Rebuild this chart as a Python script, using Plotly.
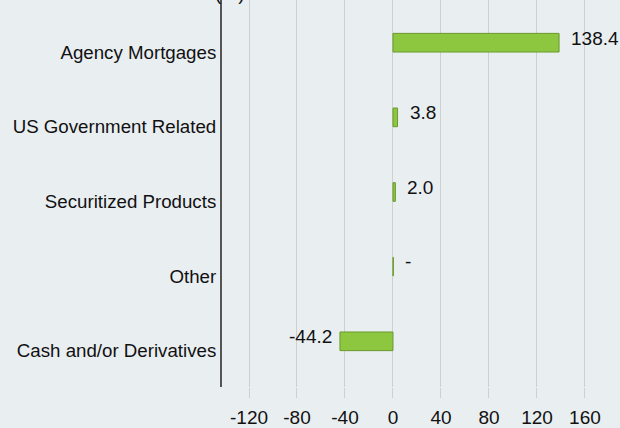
import plotly.graph_objects as go

categories = ["Agency Mortgages", "US Government Related", "Securitized Products", "Other", "Cash and/or Derivatives"]
values = [138.4, 3.8, 2.0, 0.3, -44.2]
value_labels = ["138.4", "3.8", "2.0", "-", "-44.2"]
tick_vals = [-120, -80, -40, 0, 40, 80, 120, 160]
tick_text = ["-120", "-80", "-40", "0", "40", "80", "120", "160"]

BG = "#e9eef1"
FONT = "Liberation Sans, Arial, sans-serif"
FS = 19

fig = go.Figure()
fig.add_trace(go.Bar(
    y=categories, x=values, orientation="h",
    width=0.25, offset=-0.25,
    marker=dict(color="#8dc63f", line=dict(color="#6b9a2e", width=1)),
    hoverinfo="skip",
))

for c, v, t in zip(categories, values, value_labels):
    fig.add_annotation(
        x=v, y=c, yref="y", xref="x", text=t, showarrow=False,
        xanchor="left" if v >= 0 else "right",
        xshift=10 if v >= 0 else -6,
        yshift=14,
        font=dict(family=FONT, size=FS, color="#111111"),
    )

fig.add_annotation(
    x=0, xref="x", y=1, yref="paper", text="(%)", showarrow=False,
    xanchor="center", yanchor="bottom", xshift=-163, yshift=-6,
    font=dict(family=FONT, size=FS, color="#111111"),
)

fig.update_layout(
    width=620, height=428,
    margin=dict(l=222, r=0, t=0, b=34),
    paper_bgcolor=BG, plot_bgcolor=BG,
    showlegend=False,
    font=dict(family=FONT, size=FS, color="#111111"),
    xaxis=dict(
        range=[-142.5, 189.2], tickvals=tick_vals, ticktext=tick_text,
        showgrid=True, gridcolor="#cfcfcf", gridwidth=1,
        zeroline=False, showline=False,
        ticks="outside", ticklen=10, tickcolor="#cfcfcf", tickwidth=1,
        ticklabelstandoff=3,
        tickfont=dict(family=FONT, size=FS, color="#111111"),
        fixedrange=True,
    ),
    yaxis=dict(
        type="category", categoryorder="array", categoryarray=categories,
        range=[4.487, -0.697],
        showgrid=False, zeroline=False,
        showline=True, linecolor="#555555", linewidth=2,
        ticks="", ticklabelstandoff=0,
        tickfont=dict(family=FONT, size=18.7, color="#111111"),
        fixedrange=True,
    ),
)

fig.write_html(
    "out.html",
    config={"displayModeBar": False},
    post_script="document.body.style.margin='0';document.body.style.overflow='hidden';document.body.style.background='%s';" % BG,
)
